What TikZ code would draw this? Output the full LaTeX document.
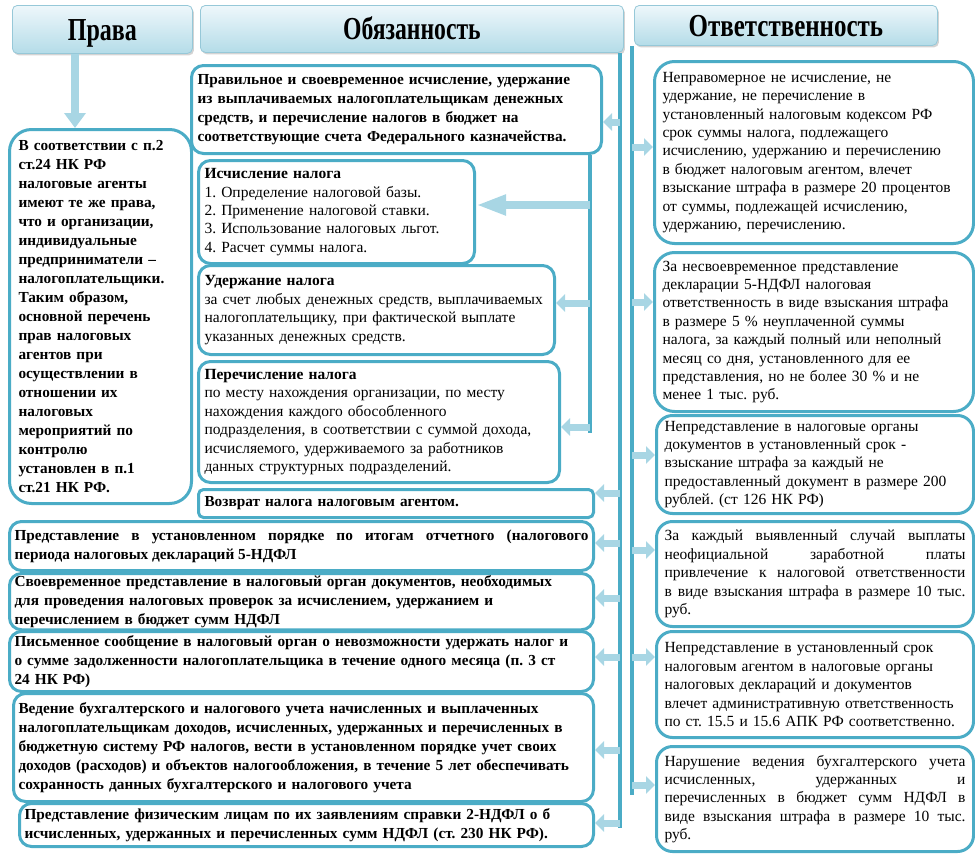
\documentclass[tikz,border=0pt]{standalone}
\usepackage{fontspec}
\setmainfont{Liberation Serif}
\usepackage{graphicx}
\usetikzlibrary{arrows.meta,shadows}

\definecolor{frame}{RGB}{75,172,198}
\definecolor{hdrtop}{RGB}{238,247,251}
\definecolor{hdrbot}{RGB}{180,220,232}
\definecolor{hdredge}{RGB}{150,200,216}
\definecolor{arrfill}{RGB}{168,214,228}

\newcommand\hdrtext[2]{\scalebox{#1}[1]{#2}}

\begin{document}
\frenchspacing
\begin{tikzpicture}[x=1pt,y=-1pt,
    box/.style={draw=frame, line width=3pt, fill=white, rounded corners=12pt,
      anchor=north west, inner xsep=5pt, inner ysep=2pt, align=left,
      font=\fontsize{15.5}{18.4}\selectfont},
    boldbox/.style={box, font=\fontsize{15.3}{19}\selectfont\bfseries},
    hdr/.style={anchor=north west, rounded corners=5pt, draw=hdredge, line width=0.8pt,
      top color=hdrtop, bottom color=hdrbot, text height=22pt, text depth=0pt,
      font=\fontsize{32}{32}\selectfont\bfseries,
      drop shadow={opacity=0.35, shadow xshift=1.5pt, shadow yshift=-2pt}},
    bar/.style={draw=frame, line width=3.5pt},
    barrow/.style={draw=arrfill, line width=7pt, -{Triangle[length=9pt,width=17pt]}},
    longarrow/.style={draw=arrfill, line width=8pt, -{Triangle[length=30pt,width=19pt]}}]
  \useasboundingbox (0,0) rectangle (975,857);

  % заголовки колонок
  \node[hdr, minimum width=180pt, minimum height=48pt] (hprava) at (12,5) {\hdrtext{0.75}{Права}};
  \node[hdr, minimum width=423pt, minimum height=47pt] (hobyaz) at (200,5) {\hdrtext{0.74}{Обязанность}};
  \node[hdr, minimum width=303pt, minimum height=40pt] (hotvet) at (634,5) {\hdrtext{0.78}{Ответственность}};

  % права налогового агента
  \node[boldbox, rounded corners=22pt, minimum width=182pt, minimum height=374pt, text width=164pt]
    (prava) at (8,128) {В соответствии с п.2\\ст.24 НК РФ\\налоговые агенты\\имеют те же права,\\что и организации,\\индивидуальные\\предприниматели –\\налогоплательщики.\\Таким образом,\\основной перечень\\прав налоговых\\агентов  при\\осуществлении в\\отношении их\\налоговых\\мероприятий по\\контролю\\установлен в п.1\\ст.21 НК РФ.};
  \coordinate (px) at (75,0);
  \draw[barrow, line width=8pt, -{Triangle[length=15pt,width=21pt]}] (hprava.south -| px) -- (prava.north -| px);

  % обязанности
  \node[boldbox, minimum width=410pt, minimum height=88pt, text width=398pt] (obyaz) at (190,64)
    {Правильное и своевременное исчисление, удержание\\из выплачиваемых налогоплательщикам денежных\\средств, и перечисление налогов в бюджет на\\соответствующие счета Федерального казначейства.};
  \node[box, minimum width=276pt, minimum height=103pt, text width=264pt] (ischisl) at (197,159)
    {\textbf{Исчисление налога}\\1. Определение налоговой базы.\\2. Применение налоговой ставки.\\3. Использование налоговых льгот.\\4. Расчет суммы налога.};
  \node[box, minimum width=356pt, minimum height=89pt, text width=344pt] (uderzh) at (197,264)
    {\textbf{Удержание налога}\\за счет любых денежных средств, выплачиваемых\\налогоплательщику, при фактической выплате\\указанных денежных средств.};
  \node[box, minimum width=361pt, minimum height=121pt, text width=349pt] (perech) at (197,360)
    {\textbf{Перечисление налога}\\по месту нахождения организации, по месту\\нахождения каждого обособленного\\подразделения, в соответствии с суммой дохода,\\исчисляемого, удерживаемого за работников\\данных структурных подразделений.};
  \node[boldbox, rounded corners=5pt, minimum width=395pt, minimum height=28pt, text width=383pt] (vozvrat) at (197,488)
    {Возврат налога налоговым агентом.};
  \node[boldbox, align=justify, minimum width=584pt, minimum height=49pt, text width=574pt] (predst) at (8,520)
    {Представление в установленном порядке по итогам отчетного (налогового\linebreak периода налоговых деклараций 5-НДФЛ};
  \node[boldbox, minimum width=584pt, minimum height=56pt, text width=574pt] (svoevr) at (8,572)
    {Своевременное представление в налоговый орган документов, необходимых\\для проведения налоговых проверок  за исчислением, удержанием и\\перечислением в бюджет сумм НДФЛ};
  \node[boldbox, minimum width=584pt, minimum height=60pt, text width=574pt] (pismen) at (8,630)
    {Письменное сообщение в налоговый орган о невозможности удержать налог и\\о сумме задолженности  налогоплательщика в течение одного месяца (п. 3 ст\\24 НК РФ)};
  \node[boldbox, minimum width=580pt, minimum height=108pt, text width=570pt] (vedenie) at (12,692)
    {Ведение бухгалтерского и налогового учета начисленных и выплаченных\\налогоплательщикам доходов, исчисленных, удержанных и перечисленных в\\бюджетную систему РФ налогов, вести в установленном порядке учет своих\\доходов (расходов) и объектов налогообложения, в течение 5 лет обеспечивать\\сохранность данных бухгалтерского и налогового учета};
  \node[boldbox, minimum width=574pt, minimum height=43pt, text width=564pt] (spravka) at (18,802)
    {Представление физическим лицам по их заявлениям справки 2-НДФЛ о б\\исчисленных, удержанных и перечисленных сумм НДФЛ (ст. 230 НК РФ).};

  % ответственность
  \node[box, rounded corners=20pt, minimum width=319pt, minimum height=182pt, text width=303pt] (otv1) at (653,60)
    {Неправомерное не исчисление,  не\\удержание,  не перечисление  в\\установленный налоговым кодексом  РФ\\срок суммы налога, подлежащего\\исчислению, удержанию и перечислению\\в бюджет налоговым агентом, влечет\\взыскание штрафа в размере 20 процентов\\от суммы, подлежащей исчислению,\\удержанию, перечислению.};
  \node[box, rounded corners=20pt, minimum width=319pt, minimum height=159pt, text width=303pt] (otv2) at (653,251)
    {За несвоевременное представление\\декларации 5-НДФЛ налоговая\\ответственность в виде взыскания штрафа\\в размере 5 \% неуплаченной суммы\\налога, за каждый полный или неполный\\месяц со дня, установленного для ее\\представления, но не более 30 \% и не\\менее 1 тыс. руб.};
  \node[box, rounded corners=16pt, minimum width=317pt, minimum height=98pt, text width=301pt] (otv3) at (655,414)
    {Непредставление в налоговые органы\\документов в установленный срок  -\\взыскание штрафа за каждый не\\предоставленный документ в размере 200\\рублей. (ст 126 НК РФ)};
  \node[box, rounded corners=16pt, align=justify, minimum width=317pt, minimum height=105pt, text width=301pt] (otv4) at (655,520)
    {За каждый выявленный случай выплаты\linebreak неофициальной заработной платы\linebreak привлечение к налоговой ответственности\linebreak в виде взыскания штрафа в размере 10 тыс.\linebreak руб.};
  \node[box, rounded corners=16pt, minimum width=317pt, minimum height=106pt, text width=301pt] (otv5) at (655,630)
    {Непредставление в установленный срок\\налоговым агентом в налоговые органы\\налоговых деклараций и документов\\влечет административную ответственность\\по ст. 15.5 и 15.6 АПК РФ соответственно.};
  \node[box, rounded corners=16pt, align=justify, minimum width=317pt, minimum height=105pt, text width=301pt] (otv6) at (655,745)
    {Нарушение ведения бухгалтерского учета\linebreak исчисленных, удержанных и\linebreak перечисленных в бюджет сумм НДФЛ в\linebreak виде взыскания штрафа в размере 10 тыс.\linebreak руб.};

  % вертикальные шины
  \coordinate (mx) at (620,0);
  \coordinate (rx) at (632,0);
  \coordinate (sx) at (590,0);
  \draw[bar] (mx |- hobyaz.south) -- (620,828);
  \draw[bar] (rx |- hotvet.south) -- (632,795);
  \draw[bar] (sx |- obyaz.south) -- (590,433);

  % стрелки от шин к блокам
  \foreach \t/\y in {obyaz/122, vozvrat/493, predst/543, svoevr/598, pismen/657, vedenie/750, spravka/823}{
    \coordinate (tail) at (mx |- 0,\y);
    \draw[barrow] (tail) -- (tail -| \t.east);
  }
  \foreach \t/\y in {uderzh/303, perech/427}{
    \coordinate (tail) at (sx |- 0,\y);
    \draw[barrow] (tail) -- (tail -| \t.east);
  }
  \coordinate (stail) at (sx |- 0,205);
  \draw[longarrow] (stail) -- (stail -| ischisl.east);
  \foreach \t/\y in {otv1/147, otv2/302, otv3/455, otv4/550, otv5/657, otv6/785}{
    \coordinate (tail) at (rx |- 0,\y);
    \draw[barrow] (tail) -- (tail -| \t.west);
  }
\end{tikzpicture}
\end{document}
